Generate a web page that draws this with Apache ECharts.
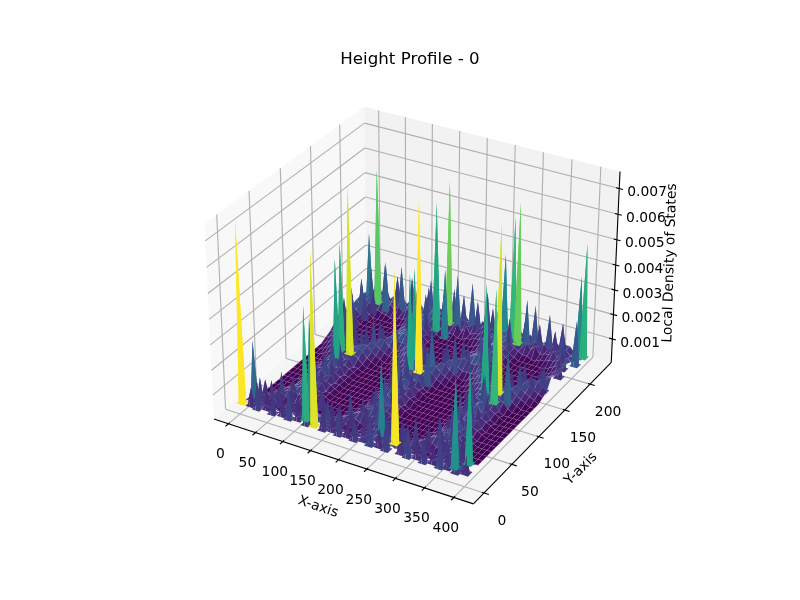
<!DOCTYPE html>
<html><head><meta charset="utf-8">
<style>html,body{margin:0;padding:0;background:#fff}#c{width:800px;height:600px}</style>
<script src="https://cdn.jsdelivr.net/npm/echarts@6/dist/echarts.min.js"></script>
</head><body><div id="c"></div>
<script>
const titleText = 'Height Profile - 0';
const xTicks = [0,50,100,150,200,250,300,350,400];
const yTicks = [0,50,100,150,200];
const zTicks = [0.001,0.002,0.003,0.004,0.005,0.006,0.007];
const zTickLabels = ['0.001','0.002','0.003','0.004','0.005','0.006','0.007'];
const xLimits = [-27,433], yLimits = [-18.5,243.5], zLimits = [0.00003,0.00765];
const xCoords = [0,8,16,24,32,40,48,56,64,72,80,88,96,104,112,120,128,136,144,152,160,168,176,184,192,200,208,216,224,232,240,248,256,264,272,280,288,296,304,312,320,328,336,344,352,360,368,376,384,392];
const yCoords = [8,16,24,32,40,48,56,64,72,80,88,96,104,112,120,128,136,144,152,160,168,176,184,192,200,208,216,224,232];
const heightUnit = 1e-4;
const heightRows = [
[4,5,4,5,4,5,4,5,4,5, 4,5,4,5,4,5,5,5,4,5, 4,5,4,5,4,5,4,5,4,5, 4,5,4,5,4,5,4,5,4,5, 4,5,4,5,4,5,4,5,4,5],
[4,4,4,3,3,2,2,2,3,2, 3,3,4,4,5,5,5,5,4,3, 3,3,2,2,2,3,3,4,4,5, 5,5,5,5,5,4,4,3,3,2, 2,2,3,3,4,4,5,5,4,4],
[3,3,4,5,5,3,2,2,2,2, 2,3,4,5,4,3,2,3,4,5, 4,3,2,2,2,2,3,4,5,5, 4,3,2,2,3,4,5,5,3,2, 2,2,3,4,5,5,4,3,3,3],
[2,2,3,4,5,5,4,3,2,3, 4,5,4,2,1,1,1,1,2,3, 4,5,4,3,2,3,4,5,4,2, 1,1,1,1,1,2,3,4,5,4, 3,2,3,4,5,4,2,1,1,1],
[1,1,2,2,3,4,5,5,4,5, 5,4,2,1,1,1,1,1,1,2, 3,4,5,5,4,5,5,4,2,1, 1,1,1,1,1,1,2,3,4,5, 5,4,5,5,4,2,1,1,1,1],
[1,1,1,2,3,4,5,5,6,5, 5,3,2,1,1,1,1,1,1,1, 2,3,5,5,6,5,5,3,2,1, 1,1,1,1,1,1,1,2,3,5, 5,6,5,5,3,2,1,1,1,1],
[1,1,1,1,2,3,4,5,6,5, 4,3,2,1,1,1,1,1,1,1, 2,3,4,5,6,5,4,3,2,1, 1,1,1,1,1,1,1,2,3,4, 5,6,5,4,3,2,1,1,1,1],
[1,1,1,1,1,3,5,4,6,4, 5,2,2,1,1,1,1,1,1,1, 1,3,5,4,7,4,5,2,1,1, 1,1,1,1,1,1,1,1,3,5, 4,7,4,5,2,1,1,1,1,1],
[1,1,1,1,2,3,4,5,6,5, 4,3,2,1,1,1,1,1,1,1, 2,3,4,5,6,5,4,3,2,1, 1,1,1,1,1,1,1,2,3,4, 5,6,5,4,3,2,1,1,1,1],
[1,1,1,1,1,3,5,4,6,4, 5,2,2,1,1,1,1,1,1,1, 1,3,5,4,7,4,5,2,1,1, 1,1,1,1,1,1,1,1,3,5, 4,7,4,5,2,1,1,1,1,1],
[1,1,1,1,2,3,4,5,6,5, 4,3,2,1,1,1,1,1,1,1, 2,3,4,5,6,5,4,3,2,1, 1,1,1,1,1,1,1,2,3,4, 5,6,5,4,3,2,1,1,1,1],
[1,1,1,1,1,3,5,4,6,4, 5,2,2,1,1,1,1,1,1,1, 1,3,5,4,7,4,5,2,1,1, 1,1,1,1,1,1,1,1,3,5, 4,7,4,5,2,1,1,1,1,1],
[1,1,1,1,2,3,4,5,6,5, 4,3,2,1,1,1,1,1,1,1, 2,3,4,5,6,5,4,3,2,1, 1,1,1,1,1,1,1,2,3,4, 5,6,5,4,3,2,1,1,1,1],
[1,1,1,1,1,3,5,4,6,4, 5,2,2,1,1,1,1,1,1,1, 1,3,5,4,7,4,5,2,1,1, 1,1,1,1,1,1,1,1,3,5, 4,7,4,5,2,1,1,1,1,1],
[1,1,1,2,3,4,5,5,6,5, 5,4,2,1,1,1,1,1,1,2, 3,4,5,6,6,5,5,4,2,1, 1,1,1,1,1,1,2,3,4,5, 6,6,5,5,4,2,1,1,1,1],
[1,1,2,3,4,5,6,6,7,6, 6,5,3,2,1,1,1,1,2,3, 4,5,6,7,7,7,6,5,3,2, 1,1,1,1,1,2,3,4,5,6, 7,7,7,6,5,3,2,1,1,1],
[1,2,3,4,5,6,6,5,4,5, 6,6,4,3,2,1,1,2,3,4, 5,6,6,5,4,5,6,6,4,3, 2,1,1,1,2,3,4,5,6,6, 5,4,5,6,6,4,3,2,1,1],
[2,3,4,5,6,5,3,2,2,3, 4,6,5,4,3,2,2,3,4,6, 6,5,3,2,2,3,4,6,6,4, 3,2,1,2,3,4,6,6,5,3, 2,2,3,4,6,5,4,3,2,1],
[3,4,5,6,5,3,2,1,1,1, 3,4,6,6,4,3,3,4,6,6, 4,3,2,1,1,2,3,4,6,6, 4,3,3,3,4,6,6,4,3,1, 1,1,2,3,4,6,5,4,3,2],
[5,6,5,3,2,1,1,1,1,1, 2,3,4,6,6,5,5,5,6,4, 3,2,1,1,1,1,1,2,4,5, 6,6,5,5,6,5,3,2,1,1, 1,1,1,2,3,5,6,6,4,3],
[7,5,3,2,1,1,1,1,1,1, 1,2,3,5,6,7,7,7,5,3, 2,1,1,1,1,1,1,1,2,4, 5,6,7,7,7,5,3,2,1,1, 1,1,1,1,1,2,3,5,6,7],
[6,5,3,2,1,1,1,1,1,1, 1,1,3,4,6,7,6,5,3,2, 1,1,1,1,1,1,1,1,1,2, 4,5,6,7,6,5,3,2,1,1, 1,1,1,1,1,1,2,3,5,6],
[7,4,3,1,1,1,1,1,1,1, 1,2,3,5,5,6,7,5,4,2, 1,1,1,1,1,1,1,1,1,3, 3,5,5,7,6,5,3,1,1,1, 1,1,1,1,1,1,2,3,4,5],
[6,5,3,2,1,1,1,1,1,1, 1,1,3,4,6,7,6,5,3,2, 1,1,1,1,1,1,1,1,1,2, 4,5,6,7,6,5,3,2,1,1, 1,1,1,1,1,1,2,3,5,6],
[7,5,4,2,1,1,1,1,1,1, 1,2,3,5,5,6,7,5,4,2, 1,1,1,1,1,1,1,1,2,3, 4,5,5,7,6,5,3,2,1,1, 1,1,1,1,1,2,3,4,5,6],
[7,6,5,4,3,2,2,1,1,2, 2,3,4,5,6,7,6,6,4,3, 3,2,2,1,1,2,2,3,3,4, 5,6,7,7,6,5,4,3,2,2, 1,1,2,2,3,3,4,5,6,5],
[7,5,7,5,5,3,5,3,5,3, 5,3,5,3,7,5,7,5,5,3, 5,3,5,2,5,2,3,3,5,3, 5,5,7,5,7,5,5,3,5,3, 5,2,3,3,5,3,5,3,5,5],
[5,5,7,5,7,3,5,3,7,3, 5,3,7,5,7,5,7,5,5,5, 5,3,5,5,3,5,3,5,3,5, 3,5,5,7,5,7,5,5,3,5, 3,5,3,5,3,5,5,3,5,3],
[5,7,5,7,3,5,3,5,3,5, 3,5,3,7,3,5,5,5,5,5, 5,3,5,3,5,2,5,3,5,3, 5,5,5,7,5,5,3,5,3,5, 3,5,3,5,3,5,5,3,5,3]
];
/* tall narrow peaks: x, y, height, local foot height */
const tallSpikes = [
[-4,8,75,3],[0,24,25,2],[104,16,47,2],[128,8,71,3],[96,32,39,2],
[264,16,71,4],[232,24,33,2],[248,32,28,2],[368,16,38,2],[384,24,40,3],
[64,128,70,3],[48,128,47,2],[56,112,44,2],
[192,128,72,4],[176,128,42,3],[168,144,41,3],[208,136,22,2],[216,120,18,2],
[328,136,70,3],[304,136,45,3],[312,128,42,3],[336,120,48,3],[352,128,22,2],[344,136,20,2],
[16,224,57,2],[0,224,30,2],[40,216,22,2],
[128,224,50,2],[144,208,45,2],[152,224,60,2],[168,200,30,2],[168,224,23,2],
[248,232,35,2],[264,232,51,2],[280,224,59,2],[296,224,21,2],
[368,216,15,2],[386,230,35,2],[392,232,48,2],[392,216,20,2]
];
/* small teeth along the ridges: x, y, height */
const ridgeTeeth = [
[8,12,9],[22,10,13],[36,14,8],[50,10,11],[66,12,9],[80,10,14],[94,13,8],[112,10,12],[118,14,16],[142,10,11],[156,13,9],[170,10,13],[184,12,8],[198,10,12],[212,13,10],[226,10,14],[240,12,9],[254,10,13],[278,12,10],[292,10,14],[306,13,9],[320,10,12],[334,13,8],[348,10,14],[360,12,10],[376,10,12],[390,13,9],
[16,20,12],[28,28,10],[40,34,13],[52,42,11],[76,40,12],[90,32,10],[102,26,14],[116,18,11],[142,18,13],[154,26,10],[168,32,14],[180,42,11],[204,40,12],[218,32,15],[232,26,10],[248,18,13],[278,18,12],[290,26,14],[304,34,10],[316,42,13],[340,40,14],[354,32,11],[366,24,13],[380,16,10],
[60,56,12],[68,64,15],[62,72,10],[70,80,14],[60,88,11],[66,96,16],[72,104,12],[60,112,14],[70,120,17],
[188,56,13],[196,64,16],[186,72,11],[194,80,17],[200,88,12],[188,96,18],[196,104,13],[186,112,15],[200,120,19],
[324,56,14],[332,64,11],[322,72,16],[334,80,12],[326,88,18],[320,96,13],[334,104,17],[324,112,14],[318,120,20],
[50,138,14],[38,146,12],[26,154,15],[12,162,12],[78,136,13],[90,146,16],[102,152,12],[116,160,15],[178,138,14],[164,146,12],[150,154,16],[138,162,13],[206,138,15],[220,146,12],[234,152,17],[250,160,13],[314,136,13],[300,146,16],[286,154,12],[274,162,15],[342,138,12],[356,146,15],[370,154,11],[384,162,13],
[124,174,15],[132,182,12],[122,190,17],[134,198,13],[126,206,16],[120,214,13],[260,174,16],[268,182,13],[258,190,18],[270,198,12],[262,206,17],[274,214,14],[4,174,13],[10,182,16],[2,190,12],[12,198,17],[4,206,14],[14,214,18],[386,190,9],[380,204,11],
[8,230,14],[28,226,18],[48,230,14],[62,224,20],[76,230,15],[92,226,17],[108,230,13],[118,224,18],[138,230,15],[158,228,16],[178,226,15],[190,230,20],[204,226,14],[218,230,18],[232,226,13],[240,230,17],[256,226,14],[274,230,16],[292,226,13],[306,230,18],[318,226,12],[332,230,16],[346,226,11],[356,230,14],[364,224,10],[384,226,11],
[54,60,9],[76,68,10],[52,76,8],[78,84,10],[54,92,9],[76,100,11],[52,108,9],[78,116,12],[178,60,9],[206,68,11],[180,76,9],[206,84,10],[178,92,11],[208,100,10],[178,108,10],[208,116,13],[314,60,9],[340,68,10],[312,76,11],[342,84,9],[314,92,12],[342,100,10],[310,108,11],[344,116,12],
[14,30,9],[30,18,9],[46,24,10],[70,24,10],[84,22,9],[108,38,11],[128,26,10],[136,30,9],[160,22,10],[176,26,9],[192,36,10],[212,24,10],[226,38,9],[240,34,11],[264,28,10],[272,30,9],[296,20,11],[310,26,9],[330,32,10],[346,24,11],[362,36,9],[376,28,10],
[60,142,11],[44,156,10],[30,166,11],[72,150,11],[88,160,12],[108,168,11],[184,148,11],[168,158,12],[152,168,12],[196,150,11],[214,158,12],[236,166,13],[322,146,11],[306,158,12],[290,168,13],[338,150,10],[352,160,12],[372,170,10],
[114,184,10],[142,192,11],[112,200,12],[144,208,11],[250,184,11],[278,192,10],[248,200,13],[280,206,11],[22,176,10],[24,192,12],[26,206,11]
];
const viridisStops = ['#440154','#482878','#3e4989','#31688e','#26828e','#1f9e89','#35b779','#6ece58','#b5de2b','#fde725'];

/* matplotlib-style view: elev 30, azim -60, box 4:4:3, distance 10 */
const BOX = [1.1905,1.1905,0.8929];
const U = [0.8660254,0.5,0], V = [-0.25,0.4330127,0.8660254], W = [0.4330127,-0.75,0.5];
function viewOf(x,y,z){
  const d = [(x-xLimits[0])/(xLimits[1]-xLimits[0])*BOX[0]-BOX[0]/2,
             (y-yLimits[0])/(yLimits[1]-yLimits[0])*BOX[1]-BOX[1]/2,
             (z-zLimits[0])/(zLimits[1]-zLimits[0])*BOX[2]-BOX[2]/2];
  const dot = a => a[0]*d[0]+a[1]*d[1]+a[2]*d[2];
  const zv = dot(W);
  return [dot(U)/(10-zv), dot(V)/(10-zv), zv];
}
const [x0,x1] = xLimits, [y0,y1] = yLimits, [z0,z1] = zLimits;

/* surface quads and peak faces, far ones first, coloured by their mean height */
const quads = [];
function addQuad(c,mesh){
  const mean = c.reduce((s,p)=>s+p[2],0)/4;
  const depth = c.reduce((s,p)=>s+viewOf(p[0],p[1],p[2])[2],0)/4;
  quads.push({c,mean,depth,mesh});
}
for (let j=0;j<yCoords.length-1;j++) for (let i=0;i<xCoords.length-1;i++){
  addQuad([[i,j],[i+1,j],[i+1,j+1],[i,j+1]].map(([a,b])=>[xCoords[a],yCoords[b],heightRows[b][a]*heightUnit]),true);
}
const footDx = 7, footDy = 4;
function addPeak(x,y,h,foot){
  const top = h*heightUnit, low = foot*heightUnit;
  [[1,1],[-1,1],[-1,-1],[1,-1]].forEach(([sx,sy])=>{
    addQuad([[x,y,top],[x+sx*footDx,y,low],[x+sx*footDx,y+sy*footDy,low],[x,y+sy*footDy,low]],false);
  });
}
tallSpikes.forEach(s=>addPeak(s[0],s[1],s[2],s[3]));
ridgeTeeth.forEach(s=>addPeak(s[0],s[1],s[2],2));
quads.sort((a,b)=>a.depth-b.depth);
const means = quads.map(q=>q.mean);
const vMin = Math.min(...means), vMax = Math.max(...means);

const chart = echarts.init(document.getElementById('c'),null,{renderer:'canvas'});
const FONT = '13.89px "DejaVu Sans"';
function frameItem(params,api){
  const P = (x,y,z)=>{const v=viewOf(x,y,z);return api.coord([v[0],v[1]]);};
  const kids = [];
  const poly = (pts,fill)=>kids.push({type:'polygon',shape:{points:pts},style:{fill}});
  const line = (a,b,stroke,w)=>kids.push({type:'line',shape:{x1:a[0],y1:a[1],x2:b[0],y2:b[1]},style:{stroke,lineWidth:w}});
  const text = (s,p,align,rot,font)=>kids.push({type:'text',x:p[0],y:p[1],rotation:rot||0,
      style:{text:s,x:0,y:0,align:align||'center',verticalAlign:'middle',fill:'#000',font:font||FONT}});
  poly([P(x0,y0,z0),P(x0,y1,z0),P(x0,y1,z1),P(x0,y0,z1)],'rgba(242,242,242,0.5)');
  poly([P(x0,y1,z0),P(x1,y1,z0),P(x1,y1,z1),P(x0,y1,z1)],'rgba(230,230,230,0.5)');
  poly([P(x0,y0,z0),P(x1,y0,z0),P(x1,y1,z0),P(x0,y1,z0)],'rgba(236,236,236,0.5)');
  const GRID='#b0b0b0', GW=1.11;
  xTicks.forEach(t=>{line(P(t,y0,z0),P(t,y1,z0),GRID,GW);line(P(t,y1,z0),P(t,y1,z1),GRID,GW);});
  yTicks.forEach(t=>{line(P(x1,t,z0),P(x0,t,z0),GRID,GW);line(P(x0,t,z0),P(x0,t,z1),GRID,GW);});
  zTicks.forEach(t=>{line(P(x0,y0,t),P(x0,y1,t),GRID,GW);line(P(x0,y1,t),P(x1,y1,t),GRID,GW);});
  line(P(x0,y0,z0),P(x1,y0,z0),'#000',1.11);
  line(P(x1,y0,z0),P(x1,y1,z0),'#000',1.11);
  line(P(x1,y1,z0),P(x1,y1,z1),'#000',1.11);
  const ry=(y1-y0), rx=(x1-x0);
  xTicks.forEach(t=>{
    line(P(t,y0-0.018*ry,z0),P(t,y0+0.008*ry,z0),'#000',1.11);
    const p=P(t,y0,z0); text(String(t),[p[0]-8,p[1]+31]);
  });
  yTicks.forEach(t=>{
    line(P(x1+0.018*rx,t,z0),P(x1-0.008*rx,t,z0),'#000',1.11);
    const p=P(x1,t,z0); text(String(t),[p[0]+18,p[1]+28]);
  });
  zTicks.forEach((t,k)=>{
    line(P(x1+0.014*rx,y1,t),P(x1-0.012*rx,y1,t),'#000',1.11);
    const p=P(x1,y1,t); text(zTickLabels[k],[p[0]+8,p[1]+4],'left');
  });
  text('X-axis',[318,507],'center',-0.33);
  text('Y-axis',[581,469],'center',0.79);
  text('Local Density of States',[670,263],'center',1.54);
  return {type:'group',children:kids};
}
function quadItem(params,api){
  const q = quads[api.value(2)];
  const pts = q.c.map(p=>{const v=viewOf(p[0],p[1],p[2]);return api.coord([v[0],v[1]]);});
  const t = (q.mean-vMin)/(vMax-vMin);
  const style = {fill:echarts.color.lerp(t,viridisStops)};
  if (q.mesh){ style.stroke='rgba(190,160,215,0.3)'; style.lineWidth=0.5; }
  return {type:'polygon',shape:{points:pts},style};
}
chart.setOption({
  animation:false,
  backgroundColor:'#fff',
  title:{text:titleText,left:405,top:46,textAlign:'center',
    textStyle:{fontFamily:'DejaVu Sans',fontWeight:'normal',fontSize:16.67,color:'#000'}},
  grid:{left:179,top:71,width:462,height:462},
  xAxis:{type:'value',min:-0.095,max:0.09,show:false},
  yAxis:{type:'value',min:-0.095,max:0.09,show:false},
  tooltip:{show:false},
  series:[
    {type:'custom',coordinateSystem:'cartesian2d',clip:false,silent:true,z:1,data:[[0,0]],renderItem:frameItem},
    {type:'custom',coordinateSystem:'cartesian2d',clip:false,silent:true,z:2,progressive:0,
     data:quads.map((q,k)=>[0,0,k]),renderItem:quadItem}
  ]
});
</script></body></html>
